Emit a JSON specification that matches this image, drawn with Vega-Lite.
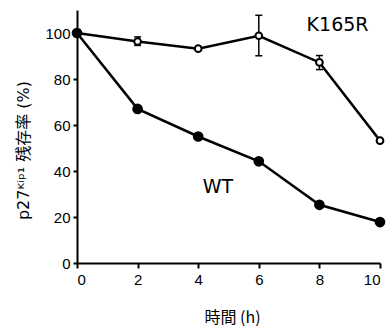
{
  "$schema": "https://vega.github.io/schema/vega-lite/v6.json",
  "width": 303,
  "height": 253,
  "autosize": {"type": "none"},
  "padding": {"left": 77, "top": 10, "right": 10, "bottom": 66},
  "background": "white",
  "config": {
    "view": {"stroke": null},
    "axis": {
      "domainColor": "black",
      "domainWidth": 2,
      "tickColor": "black",
      "tickWidth": 2,
      "tickSize": 5,
      "grid": false,
      "labelFont": "Liberation Sans",
      "labelFontSize": 15,
      "labelColor": "black",
      "titleFont": "DejaVu Sans, Noto Sans CJK JP",
      "titleFontSize": 16,
      "titleFontWeight": "normal",
      "titleColor": "black"
    }
  },
  "data": {
    "values": [
      {"series": "K165R", "time": 0, "value": 100},
      {"series": "K165R", "time": 2, "value": 96.3, "lo": 94.6, "hi": 98.3},
      {"series": "K165R", "time": 4, "value": 93.2},
      {"series": "K165R", "time": 6, "value": 98.8, "lo": 90.1, "hi": 107.7},
      {"series": "K165R", "time": 8, "value": 87.2, "lo": 84.1, "hi": 90.2},
      {"series": "K165R", "time": 10, "value": 53.2},
      {"series": "WT", "time": 0, "value": 100},
      {"series": "WT", "time": 2, "value": 67.0, "lo": 65.8, "hi": 68.2},
      {"series": "WT", "time": 4, "value": 55.0},
      {"series": "WT", "time": 6, "value": 44.2},
      {"series": "WT", "time": 8, "value": 25.3},
      {"series": "WT", "time": 10, "value": 17.8}
    ]
  },
  "layer": [
    {
      "mark": {"type": "line", "color": "black", "strokeWidth": 2.5},
      "encoding": {
        "x": {
          "field": "time", "type": "quantitative",
          "scale": {"domain": [0, 10], "nice": false, "zero": false},
          "axis": {"values": [0, 2, 4, 6, 8, 10], "labelPadding": 4, "title": "時間 (h)", "titleFont": "Noto Sans CJK JP", "titleX": 155, "titleY": 54, "titleBaseline": "middle"}
        },
        "y": {
          "field": "value", "type": "quantitative",
          "scale": {"domain": [0, 110], "nice": false},
          "axis": {"values": [0, 20, 40, 60, 80, 100], "labelPadding": 3, "tickSize": 4, "title": "p27ᴷⁱᵖ¹ 残存率 (%)", "titleX": -54, "titleY": 140, "titleBaseline": "middle", "titleAngle": -90}
        },
        "detail": {"field": "series"}
      }
    },
    {
      "transform": [{"filter": "isValid(datum.lo)"}],
      "mark": {"type": "rule", "color": "black", "strokeWidth": 1.5},
      "encoding": {
        "x": {"field": "time", "type": "quantitative"},
        "y": {"field": "lo", "type": "quantitative"},
        "y2": {"field": "hi"}
      }
    },
    {
      "transform": [{"filter": "isValid(datum.lo)"}],
      "mark": {"type": "tick", "orient": "horizontal", "color": "black", "size": 7, "thickness": 1.5, "opacity": 1},
      "encoding": {
        "x": {"field": "time", "type": "quantitative"},
        "y": {"field": "lo", "type": "quantitative"}
      }
    },
    {
      "transform": [{"filter": "isValid(datum.hi)"}],
      "mark": {"type": "tick", "orient": "horizontal", "color": "black", "size": 7, "thickness": 1.5, "opacity": 1},
      "encoding": {
        "x": {"field": "time", "type": "quantitative"},
        "y": {"field": "hi", "type": "quantitative"}
      }
    },
    {
      "mark": {"type": "point", "shape": "circle", "stroke": "black", "strokeWidth": 2, "opacity": 1},
      "encoding": {
        "x": {"field": "time", "type": "quantitative"},
        "y": {"field": "value", "type": "quantitative"},
        "fill": {"field": "series", "type": "nominal", "scale": {"domain": ["K165R", "WT"], "range": ["white", "black"]}, "legend": null},
        "size": {"field": "series", "type": "nominal", "scale": {"domain": ["K165R", "WT"], "range": [45, 75]}, "legend": null}
      }
    },
    {
      "data": {"values": [{"label": "K165R", "time": 8.6, "value": 103.3}, {"label": "WT", "time": 4.65, "value": 33}]},
      "mark": {"type": "text", "font": "DejaVu Sans", "fontSize": 19, "color": "black", "align": "center", "baseline": "middle"},
      "encoding": {
        "x": {"field": "time", "type": "quantitative"},
        "y": {"field": "value", "type": "quantitative"},
        "text": {"field": "label"}
      }
    }
  ]
}
